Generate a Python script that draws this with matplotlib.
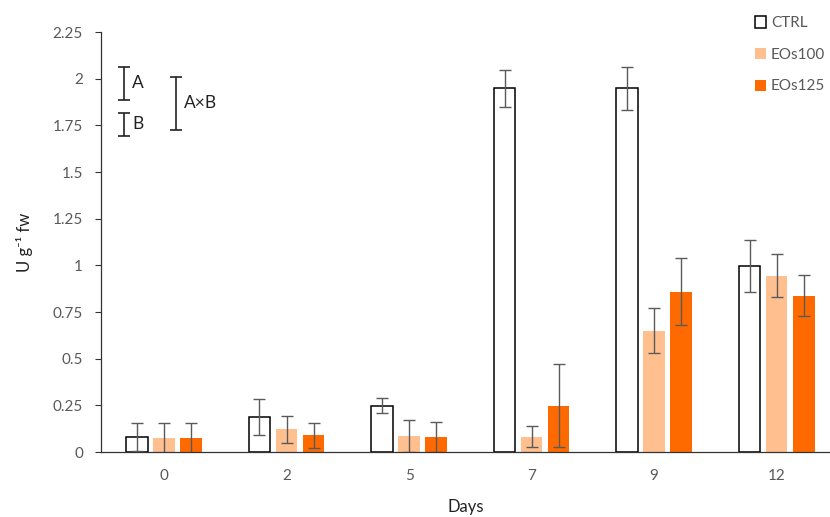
import numpy as np
import matplotlib.pyplot as plt
from matplotlib.patches import Patch
from matplotlib.ticker import FuncFormatter

plt.rcParams["font.family"] = ["Lato", "DejaVu Sans"]

days = ["0", "2", "5", "7", "9", "12"]
ctrl = [0.08, 0.187, 0.248, 1.948, 1.948, 0.996]
ctrl_err = [0.075, 0.095, 0.04, 0.098, 0.113, 0.14]
eos100 = [0.076, 0.122, 0.085, 0.082, 0.65, 0.944]
eos100_err = [0.08, 0.073, 0.085, 0.057, 0.12, 0.115]
eos125 = [0.076, 0.089, 0.08, 0.248, 0.859, 0.837]
eos125_err = [0.08, 0.065, 0.08, 0.222, 0.178, 0.11]

# LSD bars (label, centre, half length)
lsd_labels = ["A", "B", "A×B"]
lsd_centre = [1.975, 1.755, 1.868]
lsd_half = [0.089, 0.063, 0.143]

fig = plt.figure(figsize=(8.3, 5.17), dpi=100)
ax = fig.add_axes([0.1217, 0.1257, 0.8783, 0.8123])

x = np.arange(len(days))
w = 0.176
off = 0.221
ekw = dict(ecolor="#5a5a5a", elinewidth=1.0, capsize=4, capthick=1.0)

ax.bar(x - off, ctrl, w, color="white", edgecolor="black", linewidth=1.1,
       yerr=ctrl_err, error_kw=ekw, zorder=2)
ax.bar(x, eos100, w, color="#FFBF8F", yerr=eos100_err, error_kw=ekw, zorder=2)
ax.bar(x + off, eos125, w, color="#FF6A00", yerr=eos125_err, error_kw=ekw, zorder=2)

# LSD markers
lsd_x = [-0.327, -0.327, 0.098]
for lab, cx, c, h in zip(lsd_labels, lsd_x, lsd_centre, lsd_half):
    ax.errorbar(cx, c, yerr=h, fmt="none", ecolor="#222222", elinewidth=1.2,
                capsize=4, capthick=1.2)
    ax.text(cx + 0.065, c, lab, fontsize=12.5, color="#222222", va="center", ha="left")

ax.set_xlim(-0.514, 5.435)
ax.set_ylim(0, 2.25)
ax.set_yticks(np.arange(0, 2.26, 0.25))
ax.yaxis.set_major_formatter(FuncFormatter(lambda v, p: f"{v:g}"))
ax.set_xticks(x)
ax.set_xticklabels(days)
ax.tick_params(axis="x", length=0, pad=12, labelsize=11, labelcolor="#595959")
ax.tick_params(axis="y", length=4, width=0.8, color="#333333", labelsize=11,
               labelcolor="#595959", pad=9)

for s in ["top", "right"]:
    ax.spines[s].set_visible(False)
ax.spines["left"].set_color("#333333")
ax.spines["bottom"].set_color("#333333")
ax.spines["left"].set_linewidth(0.9)
ax.spines["bottom"].set_linewidth(0.9)

ax.set_xlabel("Days", fontsize=12, color="#222222", labelpad=12)
ax.set_ylabel("U g⁻¹ fw", fontsize=12, color="#222222", labelpad=14)

handles = [Patch(facecolor="white", edgecolor="black", linewidth=1.1),
           Patch(facecolor="#FFBF8F"), Patch(facecolor="#FF6A00")]
fig.legend(handles, ["CTRL", "EOs100", "EOs125"], loc="upper left",
           bbox_to_anchor=(0.893, 0.995), frameon=False, fontsize=11,
           labelcolor="#595959", handlelength=0.75, handleheight=0.75,
           handletextpad=0.3, labelspacing=1.15)

fig.savefig("out.png", dpi=100)
